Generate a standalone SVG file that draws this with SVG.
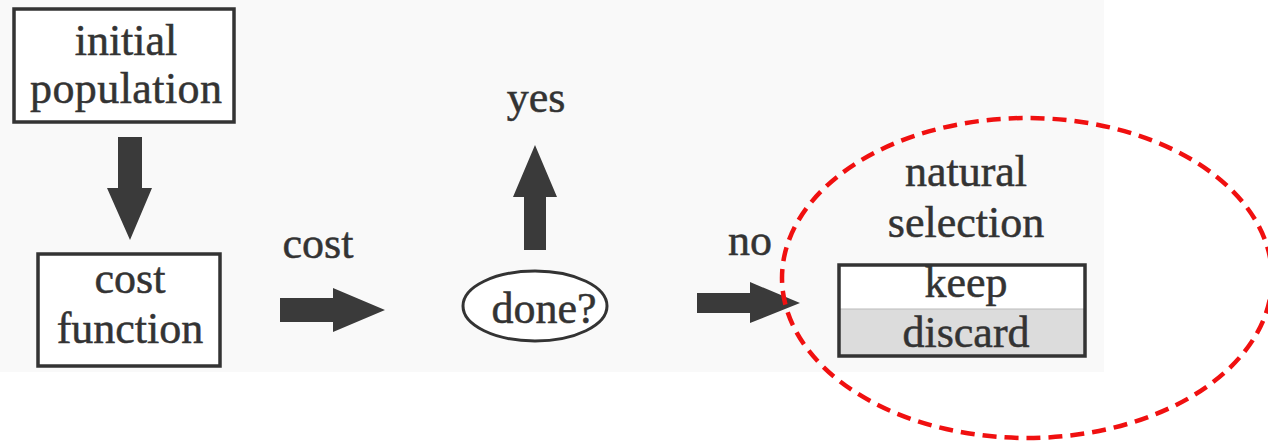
<svg xmlns="http://www.w3.org/2000/svg" width="1268" height="443" viewBox="0 0 1268 443">
<style>
text{font-family:'Liberation Serif','Times New Roman',serif;font-size:44px;fill:#333;stroke:#333;stroke-width:0.5;text-anchor:middle}
.box{fill:#fff;stroke:#333;stroke-width:3.5}
.arr{fill:#3a3a3a}
</style>
<rect x="0" y="0" width="1268" height="443" fill="#ffffff"/>
<rect x="0" y="0" width="1104" height="372" fill="#f9f9f9"/>
<g id="initial-population">
<rect class="box" x="14" y="9" width="220" height="113"/>
<text x="126" y="55">initial</text>
<text x="126" y="103" textLength="192" lengthAdjust="spacing">population</text>
</g>
<g id="cost-function">
<rect class="box" x="38" y="254" width="182" height="112"/>
<text x="130" y="293">cost</text>
<text x="130" y="343">function</text>
</g>
<g id="done">
<ellipse cx="535" cy="306" rx="72" ry="35" fill="#fff" stroke="#333" stroke-width="3"/>
<text x="544" y="323">done?</text>
</g>
<g id="natural-selection">
<text x="966" y="186">natural</text>
<text x="966" y="237">selection</text>
<rect x="839" y="309" width="246" height="47" fill="#dcdcdc"/>
<rect x="839" y="265" width="246" height="44" fill="#fff"/>
<line x1="839" y1="309" x2="1085" y2="309" stroke="#bbb" stroke-width="1"/>
<rect x="839" y="265" width="246" height="91" fill="none" stroke="#333" stroke-width="3.5"/>
<text x="966" y="297">keep</text>
<text x="966" y="347">discard</text>
</g>
<g id="connectors">
<polygon class="arr" points="118,137 142,137 142,188 152,188 130,240 107,188 118,188"/>
<polygon class="arr" points="280,298 333,298 333,288 385,310 333,332 333,322 280,322"/>
<polygon class="arr" points="524,250 546,250 546,197 557,197 535,145 513,197 524,197"/>
<polygon class="arr" points="697,293 750,293 750,282 800,303 750,323 750,313 697,313"/>
<text x="318" y="258">cost</text>
<text x="536" y="112">yes</text>
<text x="750" y="255">no</text>
</g>
<g id="highlight">
<ellipse cx="1027" cy="278" rx="245" ry="160" fill="none" stroke="#f01010" stroke-width="4.5" stroke-dasharray="14 8"/>
</g>
</svg>
